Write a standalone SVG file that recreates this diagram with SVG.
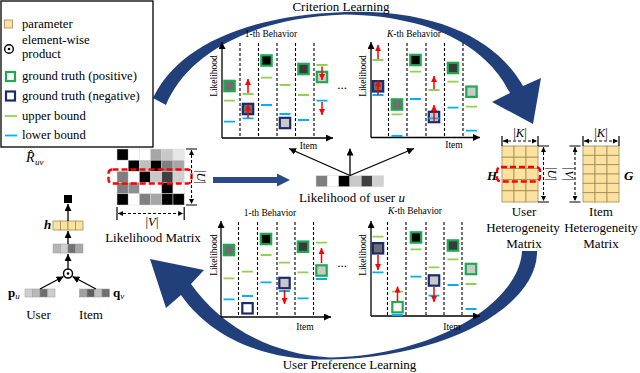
<svg xmlns="http://www.w3.org/2000/svg" width="640" height="373" viewBox="0 0 640 373">
<defs>
<marker id="ah" viewBox="0 0 10 10" refX="10" refY="5" markerWidth="7" markerHeight="7" markerUnits="userSpaceOnUse" orient="auto-start-reverse"><path d="M0,0 L10,5 L0,10 z" fill="#000"/></marker>
<marker id="ahs" viewBox="0 0 10 10" refX="10" refY="5" markerWidth="5" markerHeight="5" markerUnits="userSpaceOnUse" orient="auto-start-reverse"><path d="M0,0 L10,5 L0,10 z" fill="#000"/></marker>
<marker id="ahr" viewBox="0 0 10 10" refX="10" refY="5" markerWidth="6" markerHeight="6" markerUnits="userSpaceOnUse" orient="auto"><path d="M0,0 L10,5 L0,10 z" fill="#ff0000"/></marker>
</defs>
<style>
text { font-family: "Liberation Serif", "Times New Roman", serif; fill: #000; }
.t13 { font-size: 13px; }
.t12 { font-size: 12.7px; }
.t9 { font-size: 9.5px; }
.it { font-style: italic; }
.bi { font-style: italic; font-weight: bold; }
.ax { stroke: #000; stroke-width: 1.3; fill: none; marker-end: url(#ah); }
.dl { stroke: #000; stroke-width: 1.1; stroke-dasharray: 3 2; fill: none; }
.ub { stroke: #92d050; stroke-width: 1.8; fill: none; }
.lb { stroke: #00b0f0; stroke-width: 1.8; fill: none; }
.gp { stroke: #1faa4f; stroke-width: 2.2; }
.gn { stroke: #1b2a6b; stroke-width: 2.2; }
.ra { stroke: #ff0000; stroke-width: 1.5; fill: none; marker-end: url(#ahr); }
.cell { stroke: #d9d9d9; stroke-width: 0.5; }
.py { fill: #fbe29f; stroke: #a4895a; stroke-width: 0.8; }
.band { fill: #213f7b; }
.dim { stroke: #000; stroke-width: 1.1; stroke-dasharray: 3 2; fill: none; marker-start: url(#ahs); marker-end: url(#ahs); }
.tick { stroke: #000; stroke-width: 1.2; fill: none; }
.arr { stroke: #000; stroke-width: 1.3; fill: none; marker-end: url(#ah); }
.rbox { fill: none; stroke: #ff0000; stroke-width: 2.4; stroke-dasharray: 6 3; }
</style>

<!-- big curved arrows -->
<g id="criterion-learning-arc">
<path class="band" d="M153,98 C175,52 235,16 345,12 C445,9 500,45 523,86 L541,78 L533,124 L492,102 L510,93 C490,52 440,16 345,14.5 C245,18 185,58 166,105 Z"/>
<text class="t13" x="341" y="11" text-anchor="middle">Criterion Learning</text>
</g>
<g id="user-preference-arc">
<path class="band" d="M522,251 L537,251 C538,305 450,357 330,359.5 C262,361 210,336 181,295 L166,308 L150,259 L204,270 L191,284 C218,322 265,354 330,357.5 C440,355 520,300 522,251 Z"/>
<text class="t13" x="349.5" y="369" text-anchor="middle">User Preference Learning</text>
</g>

<!-- legend -->
<g id="legend">
<rect x="1" y="1" width="152" height="146" fill="#fff" stroke="#000" stroke-width="1.3"/>
<rect class="py" x="4.5" y="20" width="8" height="8"/>
<text class="t12" x="22" y="28">parameter</text>
<circle cx="9" cy="49" r="4.3" fill="none" stroke="#000" stroke-width="1.4"/>
<circle cx="9" cy="49" r="1.3" fill="#000"/>
<text class="t12" x="22" y="43.5">element-wise</text>
<text class="t12" x="22" y="58">product</text>
<rect x="6" y="72" width="9" height="9" fill="#fff" class="gp"/>
<text class="t12" x="22" y="80">ground truth (positive)</text>
<rect x="6" y="91.5" width="9" height="9" fill="#fff" class="gn"/>
<text class="t12" x="22" y="99.5">ground truth (negative)</text>
<path class="ub" d="M5,116 H17"/>
<text class="t12" x="22" y="119.5">upper bound</text>
<path class="lb" d="M5,135.5 H17"/>
<text class="t12" x="22" y="139">lower bound</text>
</g>

<!-- chart top-left -->
<g id="chart-top-1">
<text class="t9" x="271" y="37" text-anchor="middle">1-th Behavior</text>
<text class="t9" transform="translate(217.3,76) rotate(-90)" text-anchor="middle">Likelihood</text>
<path class="dl" d="M240,43V138 M258.5,43V138 M277,43V138 M295.5,43V138 M314,43V138"/>
<path class="ax" d="M222,138 V42"/>
<path class="ax" d="M222,138 H333"/>
<text class="t9" x="308.5" y="149" text-anchor="middle">Item</text>
<rect class="gp" x="224.3" y="80.8" width="10.4" height="10.4" fill="#6e6e6e"/>
<path class="ub" d="M224,100.7h11 M242.5,94h11 M261,77.7h11 M279.5,85h11 M298,95h11 M316.5,65h11"/>
<path class="lb" d="M224,121.7h11 M242.5,118.3h11 M261,105h11 M279.5,114h11 M298,120h11 M316.5,100.7h11"/>
<rect class="gn" x="242.8" y="103.8" width="10.4" height="10.4" fill="#6e6e6e"/>
<rect class="gp" x="261.3" y="55.3" width="10.4" height="10.4" fill="#000"/>
<rect class="gn" x="279.8" y="117.8" width="10.4" height="10.4" fill="#c9c9c9"/>
<rect class="gp" x="298.3" y="63.8" width="10.4" height="10.4" fill="#3a3a3a"/>
<rect class="gp" x="316.8" y="71.8" width="10.4" height="10.4" fill="#c9c9c9"/>
<path class="ra" d="M248,93 V79"/>
<path class="ra" d="M248,118 V104.5"/>
<path class="ra" d="M322,66.5 V80"/>
<path class="ra" d="M322,102 V115"/>
</g>

<!-- chart top-right -->
<g id="chart-top-k">
<text class="t9" x="414" y="37" text-anchor="middle"><tspan class="it">K</tspan>-th Behavior</text>
<text class="t9" transform="translate(366.3,76) rotate(-90)" text-anchor="middle">Likelihood</text>
<path class="dl" d="M388.5,43V137.5 M407,43V137.5 M426,43V137.5 M444.5,43V137.5 M463,43V137.5"/>
<path class="ax" d="M371,137.5 V42"/>
<path class="ax" d="M371,137.5 H480"/>
<text class="t9" x="454" y="148" text-anchor="middle">Item</text>
<path class="ub" d="M372.5,60h11 M391.5,114.3h11 M410,71.7h11 M428.5,90h11 M447.5,81.7h11 M466,106.7h11"/>
<rect class="gn" x="372.8" y="81.1" width="10.4" height="10.4" fill="#6e6e6e"/>
<rect class="gp" x="391.8" y="99.3" width="10.4" height="10.4" fill="#6e6e6e"/>
<rect class="gp" x="410.3" y="54.8" width="10.4" height="10.4" fill="#000"/>
<rect class="gn" x="428.8" y="111.8" width="10.4" height="10.4" fill="#c9c9c9"/>
<rect class="gp" x="447.8" y="62.8" width="10.4" height="10.4" fill="#3a3a3a"/>
<rect class="gp" x="466.3" y="86.5" width="10.4" height="10.4" fill="#c9c9c9"/>
<path class="lb" d="M372.5,95h11 M391.5,136h11 M410,99h11 M428.5,118.3h11 M447.5,107.7h11 M466,130.7h11"/>
<path class="ra" d="M378,59 V45"/>
<path class="ra" d="M378,95 V80.5"/>
<path class="ra" d="M434,89 V76"/>
<path class="ra" d="M434,121.7 V105"/>
</g>
<text class="t13" x="342" y="89" text-anchor="middle">...</text>

<!-- chart bottom-left -->
<g id="chart-bottom-1">
<text class="t9" x="270" y="216" text-anchor="middle">1-th Behavior</text>
<text class="t9" transform="translate(216.5,255) rotate(-90)" text-anchor="middle">Likelihood</text>
<path class="dl" d="M238.5,222V317 M257.5,222V317 M277,222V317 M295,222V317 M313.5,222V317"/>
<path class="ax" d="M221,317 V221"/>
<path class="ax" d="M221,317 H331"/>
<text class="t9" x="305" y="330" text-anchor="middle">Item</text>
<path class="ub" d="M223.5,278.3h11 M242,271.7h11 M260.5,255h11 M279,262.7h11 M297.5,272.3h11 M316,242.7h11"/>
<path class="lb" d="M223.5,299.3h11 M242,296h11 M260.5,282.3h11 M279,291h11 M297.5,298.3h11 M316,279h11"/>
<rect class="gp" x="223.8" y="244.8" width="10.4" height="10.4" fill="#6e6e6e"/>
<rect class="gn" x="242.3" y="303.1" width="10.4" height="10.4" fill="#fff"/>
<rect class="gp" x="260.8" y="233.8" width="10.4" height="10.4" fill="#000"/>
<rect class="gn" x="279.3" y="277.8" width="10.4" height="10.4" fill="#c9c9c9"/>
<rect class="gp" x="297.8" y="241.5" width="10.4" height="10.4" fill="#3a3a3a"/>
<rect class="gp" x="316.3" y="265.3" width="10.4" height="10.4" fill="#c9c9c9"/>
<path class="ra" d="M284.5,290 V304"/>
<path class="ra" d="M321.5,263 V248"/>
</g>

<!-- chart bottom-right -->
<g id="chart-bottom-k">
<text class="t9" x="415" y="214" text-anchor="middle"><tspan class="it">K</tspan>-th Behavior</text>
<text class="t9" transform="translate(366.3,255) rotate(-90)" text-anchor="middle">Likelihood</text>
<path class="dl" d="M387.5,222V316 M406,222V316 M426,222V316 M444,222V316 M462,222V316"/>
<path class="ax" d="M371,316 V221"/>
<path class="ax" d="M371,316 H480"/>
<text class="t9" x="452" y="330" text-anchor="middle">Item</text>
<path class="ub" d="M372.5,236.7h11 M392,291.7h11 M410.5,249.3h11 M428.5,267.3h11 M447.5,259.3h11 M465.5,284h11"/>
<path class="lb" d="M372.5,272.3h11 M392,315h11 M410.5,276.7h11 M428.5,295.7h11 M447.5,285h11 M465.5,309h11"/>
<rect class="gn" x="372.8" y="243.1" width="10.4" height="10.4" fill="#6e6e6e"/>
<rect class="gp" x="392.3" y="302" width="10.4" height="10.4" fill="#fff"/>
<rect class="gp" x="410.8" y="232.3" width="10.4" height="10.4" fill="#000"/>
<rect class="gn" x="428.8" y="275.3" width="10.4" height="10.4" fill="#c9c9c9"/>
<rect class="gp" x="447.8" y="240.3" width="10.4" height="10.4" fill="#3a3a3a"/>
<rect class="gp" x="465.8" y="263.8" width="10.4" height="10.4" fill="#c9c9c9"/>
<path class="ra" d="M378,255 V270"/>
<path class="ra" d="M397.5,301 V286.5"/>
<path class="ra" d="M434,287 V302"/>
</g>
<text class="t13" x="342" y="267" text-anchor="middle">...</text>

<!-- likelihood matrix -->
<g id="likelihood-matrix">
<g class="cell">
<rect x="117" y="149" width="11.2" height="11.2" fill="#000"/>
<rect x="128.2" y="149" width="11.2" height="11.2" fill="#fff"/>
<rect x="139.4" y="149" width="11.2" height="11.2" fill="#fff"/>
<rect x="150.6" y="149" width="11.2" height="11.2" fill="#a6a6a6"/>
<rect x="161.8" y="149" width="11.2" height="11.2" fill="#c8c8c8"/>
<rect x="173" y="149" width="11.2" height="11.2" fill="#e6e6e6"/>
<rect x="117" y="160.2" width="11.2" height="11.2" fill="#fff"/>
<rect x="128.2" y="160.2" width="11.2" height="11.2" fill="#000"/>
<rect x="139.4" y="160.2" width="11.2" height="11.2" fill="#bfbfbf"/>
<rect x="150.6" y="160.2" width="11.2" height="11.2" fill="#000"/>
<rect x="161.8" y="160.2" width="11.2" height="11.2" fill="#7f7f7f"/>
<rect x="173" y="160.2" width="11.2" height="11.2" fill="#a6a6a6"/>
<rect x="117" y="171.4" width="11.2" height="11.2" fill="#7f7f7f"/>
<rect x="128.2" y="171.4" width="11.2" height="11.2" fill="#fff"/>
<rect x="139.4" y="171.4" width="11.2" height="11.2" fill="#000"/>
<rect x="150.6" y="171.4" width="11.2" height="11.2" fill="#c8c8c8"/>
<rect x="161.8" y="171.4" width="11.2" height="11.2" fill="#404040"/>
<rect x="173" y="171.4" width="11.2" height="11.2" fill="#d0d0d0"/>
<rect x="117" y="182.6" width="11.2" height="11.2" fill="#7f7f7f"/>
<rect x="128.2" y="182.6" width="11.2" height="11.2" fill="#8f8f8f"/>
<rect x="139.4" y="182.6" width="11.2" height="11.2" fill="#fff"/>
<rect x="150.6" y="182.6" width="11.2" height="11.2" fill="#fff"/>
<rect x="161.8" y="182.6" width="11.2" height="11.2" fill="#000"/>
<rect x="173" y="182.6" width="11.2" height="11.2" fill="#fff"/>
<rect x="117" y="193.8" width="11.2" height="11.2" fill="#000"/>
<rect x="128.2" y="193.8" width="11.2" height="11.2" fill="#fff"/>
<rect x="139.4" y="193.8" width="11.2" height="11.2" fill="#808080"/>
<rect x="150.6" y="193.8" width="11.2" height="11.2" fill="#a6a6a6"/>
<rect x="161.8" y="193.8" width="11.2" height="11.2" fill="#000"/>
<rect x="173" y="193.8" width="11.2" height="11.2" fill="#000"/>
</g>
<rect class="rbox" x="108.5" y="169.5" width="83" height="14" rx="4"/>
<path class="dim" d="M191.5,150 V204"/>
<path class="tick" d="M186,149 H197 M186,205 H197"/>
<text class="t12" transform="translate(196.5,177) rotate(90)" text-anchor="middle">|<tspan class="it">U</tspan>|</text>
<path class="dim" d="M118,213.5 H183.2"/>
<path class="tick" d="M117,207 V220 M184.2,207 V220"/>
<text class="t12" x="152" y="226" text-anchor="middle">|<tspan class="it">V</tspan>|</text>
<text class="t13" x="153" y="242" text-anchor="middle">Likelihood Matrix</text>
</g>

<!-- likelihood vector of user u -->
<g id="user-likelihood">
<g class="cell" stroke="#999">
<rect x="316" y="175.7" width="11.3" height="11" fill="#7f7f7f"/>
<rect x="327.3" y="175.7" width="11.3" height="11" fill="#fff"/>
<rect x="338.6" y="175.7" width="11.3" height="11" fill="#000"/>
<rect x="349.9" y="175.7" width="11.3" height="11" fill="#c8c8c8"/>
<rect x="361.2" y="175.7" width="11.3" height="11" fill="#404040"/>
<rect x="372.5" y="175.7" width="11.3" height="11" fill="#d0d0d0"/>
</g>
<text class="t13" x="352" y="202" text-anchor="middle">Likelihood of user <tspan class="it">u</tspan></text>
</g>

<!-- user heterogeneity matrix -->
<g id="user-heterogeneity">
<g class="py">
<rect x="502" y="146" width="12" height="11.2"/><rect x="514" y="146" width="12" height="11.2"/><rect x="526" y="146" width="12" height="11.2"/>
<rect x="502" y="157.2" width="12" height="11.2"/><rect x="514" y="157.2" width="12" height="11.2"/><rect x="526" y="157.2" width="12" height="11.2"/>
<rect x="502" y="168.4" width="12" height="11.2"/><rect x="514" y="168.4" width="12" height="11.2"/><rect x="526" y="168.4" width="12" height="11.2"/>
<rect x="502" y="179.6" width="12" height="11.2"/><rect x="514" y="179.6" width="12" height="11.2"/><rect x="526" y="179.6" width="12" height="11.2"/>
<rect x="502" y="190.8" width="12" height="11.2"/><rect x="514" y="190.8" width="12" height="11.2"/><rect x="526" y="190.8" width="12" height="11.2"/>
</g>
<rect class="rbox" x="497" y="167" width="43" height="14.5" rx="4"/>
<text class="t13 bi" x="487" y="180">H</text>
<path class="dim" d="M543.5,147 V201"/>
<path class="tick" d="M538,146 H549 M538,202 H549"/>
<text class="t12" transform="translate(548,174) rotate(90)" text-anchor="middle">|<tspan class="it">U</tspan>|</text>
<path class="dim" d="M503,141 H537"/>
<path class="tick" d="M502,136 V146 M538,136 V146"/>
<text class="t12" x="520" y="137" text-anchor="middle">|<tspan class="it">K</tspan>|</text>
<text class="t13" x="524" y="216" text-anchor="middle">User</text>
<text class="t13" x="523" y="232" text-anchor="middle">Heterogeneity</text>
<text class="t13" x="524" y="248" text-anchor="middle">Matrix</text>
</g>

<!-- item heterogeneity matrix -->
<g id="item-heterogeneity">
<g class="py">
<rect x="583" y="146" width="12" height="9.33"/><rect x="595" y="146" width="12" height="9.33"/><rect x="607" y="146" width="12" height="9.33"/>
<rect x="583" y="155.33" width="12" height="9.33"/><rect x="595" y="155.33" width="12" height="9.33"/><rect x="607" y="155.33" width="12" height="9.33"/>
<rect x="583" y="164.67" width="12" height="9.33"/><rect x="595" y="164.67" width="12" height="9.33"/><rect x="607" y="164.67" width="12" height="9.33"/>
<rect x="583" y="174" width="12" height="9.33"/><rect x="595" y="174" width="12" height="9.33"/><rect x="607" y="174" width="12" height="9.33"/>
<rect x="583" y="183.33" width="12" height="9.33"/><rect x="595" y="183.33" width="12" height="9.33"/><rect x="607" y="183.33" width="12" height="9.33"/>
<rect x="583" y="192.67" width="12" height="9.33"/><rect x="595" y="192.67" width="12" height="9.33"/><rect x="607" y="192.67" width="12" height="9.33"/>
</g>
<text class="t13 bi" x="624" y="180">G</text>
<path class="dim" d="M575,147 V201"/>
<path class="tick" d="M569.5,146 H580.5 M569.5,202 H580.5"/>
<text class="t12" transform="translate(564.5,174) rotate(90)" text-anchor="middle">|<tspan class="it">V</tspan>|</text>
<path class="dim" d="M584,141 H618"/>
<path class="tick" d="M583,136 V146 M619,136 V146"/>
<text class="t12" x="601" y="137" text-anchor="middle">|<tspan class="it">K</tspan>|</text>
<text class="t13" x="601" y="216" text-anchor="middle">Item</text>
<text class="t13" x="601" y="232" text-anchor="middle">Heterogeneity</text>
<text class="t13" x="601" y="248" text-anchor="middle">Matrix</text>
</g>

<!-- left model -->
<g id="prediction-output">
<text class="it" font-size="14" x="26" y="162">R̂</text>
<text class="it" font-size="9" x="35" y="165">uv</text>
<rect x="64" y="195" width="8" height="8" fill="#000"/>
</g>
<g id="h-vector">
<text class="t13 bi" x="44" y="229">h</text>
<rect class="py" x="53" y="221" width="7.5" height="9"/>
<rect class="py" x="60.5" y="221" width="7.5" height="9"/>
<rect class="py" x="68" y="221" width="7.5" height="9"/>
<rect class="py" x="75.5" y="221" width="7.5" height="9"/>
</g>
<g id="product-vector" stroke="#999" stroke-width="0.5">
<rect x="53" y="244" width="7.5" height="9" fill="#b5b5b5"/>
<rect x="60.5" y="244" width="7.5" height="9" fill="#cfcfcf"/>
<rect x="68" y="244" width="7.5" height="9" fill="#727272"/>
<rect x="75.5" y="244" width="7.5" height="9" fill="#a8a8a8"/>
</g>
<g id="elementwise-product">
<circle cx="68" cy="273.5" r="4.5" fill="#fff" stroke="#000" stroke-width="1.4"/>
<circle cx="68" cy="273.5" r="1.3" fill="#000"/>
</g>
<g id="user-embedding">
<g stroke="#999" stroke-width="0.5">
<rect x="25" y="289" width="7.5" height="8" fill="#cfcfcf"/>
<rect x="32.5" y="289" width="7.5" height="8" fill="#b8b8b8"/>
<rect x="40" y="289" width="7.5" height="8" fill="#6e6e6e"/>
<rect x="47.5" y="289" width="7.5" height="8" fill="#cccccc"/>
</g>
<text class="t13" x="8" y="297"><tspan font-weight="bold">p</tspan><tspan class="it" font-size="9" dy="2">u</tspan></text>
<text class="t13" x="38.5" y="319" text-anchor="middle">User</text>
</g>
<g id="item-embedding">
<g stroke="#999" stroke-width="0.5">
<rect x="79.5" y="289" width="7.5" height="8" fill="#a0a0a0"/>
<rect x="87" y="289" width="7.5" height="8" fill="#5f5f5f"/>
<rect x="94.5" y="289" width="7.5" height="8" fill="#c0c0c0"/>
<rect x="102" y="289" width="7.5" height="8" fill="#6f6f6f"/>
</g>
<text class="t13" x="113" y="297"><tspan font-weight="bold">q</tspan><tspan class="it" font-size="9" dy="2">v</tspan></text>
<text class="t13" x="91" y="319" text-anchor="middle">Item</text>
</g>

<!-- connectors -->
<g id="connectors">
<path class="arr" d="M68,221 V204"/>
<path class="arr" d="M68,244 V231"/>
<path class="arr" d="M68,269 V254"/>
<path class="arr" d="M40,289 L63.5,276.5"/>
<path class="arr" d="M96,289 L72.5,276.5"/>
<path d="M213,177 H277 V173.5 L290,180 L277,186.5 V183 H213 Z" fill="#2b4a8a"/>
<path class="arr" d="M350,175.5 L289,148.5"/>
<path class="arr" d="M350,175.5 V148.5"/>
<path class="arr" d="M350,175.5 L414,148.5"/>
</g>
</svg>
